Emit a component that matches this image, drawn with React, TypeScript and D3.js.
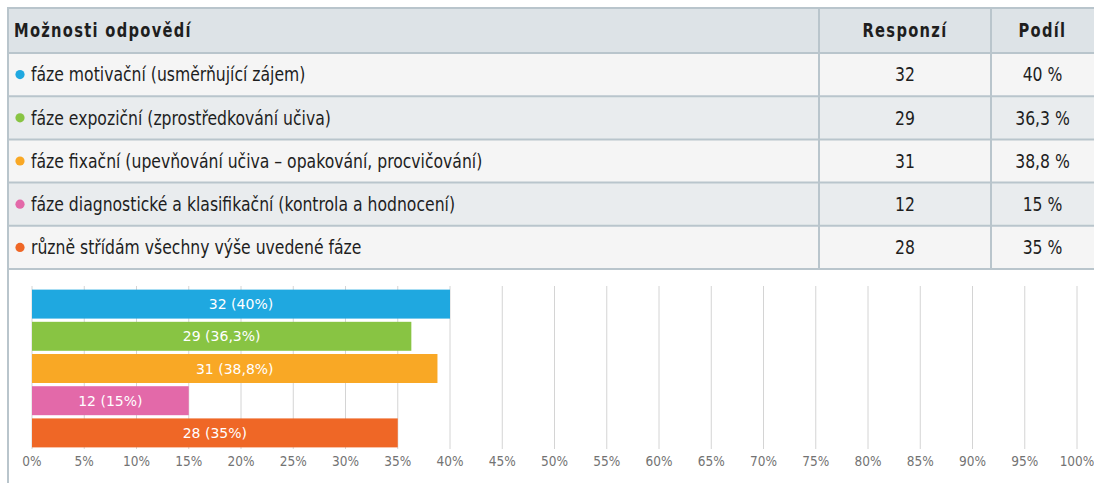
import React from "react";
import * as d3 from "d3";

const categories = [
  "fáze motivační (usměrňující zájem)",
  "fáze expoziční (zprostředkování učiva)",
  "fáze fixační (upevňování učiva – opakování, procvičování)",
  "fáze diagnostické a klasifikační (kontrola a hodnocení)",
  "různě střídám všechny výše uvedené fáze",
];
const responses = [32, 29, 31, 12, 28];
const shares = [40, 36.3, 38.8, 15, 35];
const colors = ["#1fa8e0", "#88c443", "#f9a825", "#e369a9", "#ef6726"];
const headers = ["Možnosti odpovědí", "Responzí", "Podíl"];

const W = 1094;
const H = 483;
const TFONT = "'DejaVu Sans Condensed', 'DejaVu Sans', sans-serif";
const CFONT = "'DejaVu Sans', sans-serif";
const BORDER = "#b9c5cc";

const fmt = (v: number) => String(v).replace(".", ",");

function TT(props: {
  x: number;
  y: number;
  anchor?: "start" | "middle" | "end";
  bold?: boolean;
  sx?: number;
  children: React.ReactNode;
}) {
  const sx = props.sx ?? 0.915;
  return (
    <g transform={`translate(${props.x},${props.y}) scale(${sx},1)`}>
      <text
        x={0}
        y={0}
        textAnchor={props.anchor ?? "start"}
        dominantBaseline="central"
        fontFamily={TFONT}
        fontSize={19}
        fontWeight={props.bold ? 700 : 400}
        letterSpacing={props.bold ? 1.5 : 0}
        fill="#1e1e1e"
      >
        {props.children}
      </text>
    </g>
  );
}

export default function App() {
  const rowY = d3.scaleBand<number>().domain(d3.range(categories.length)).range([53, 269]);
  const col1 = 819;
  const col2 = 991;
  const right = 1096;

  const x = d3.scaleLinear().domain([0, 100]).range([32, 1077]);
  const y = d3
    .scaleBand<number>()
    .domain(d3.range(categories.length))
    .range([288, 449])
    .paddingInner(0.1)
    .paddingOuter(0.05);
  const ticks = x.ticks(20);

  return (
    <svg width={W} height={H} style={{ position: "absolute", left: 0, top: 0, background: "#fff" }}>
      {/* table header */}
      <rect x={8} y={8} width={right - 8} height={45} fill="#dde3e7" />
      <TT x={14} y={31} bold sx={0.86}>{headers[0]}</TT>
      <TT x={(col1 + col2) / 2} y={31} anchor="middle" bold sx={0.86}>{headers[1]}</TT>
      <TT x={(col2 + 1094) / 2} y={31} anchor="middle" bold sx={0.86}>{headers[2]}</TT>

      {categories.map((c, i) => {
        const y0 = rowY(i)!;
        const h = rowY.bandwidth();
        const cy = y0 + h / 2;
        return (
          <g key={c}>
            <rect x={8} y={y0} width={right - 8} height={h} fill={i % 2 === 0 ? "#f5f5f5" : "#e9ecee"} />
            <circle cx={20} cy={cy} r={4.6} fill={colors[i]} />
            <TT x={31} y={cy}>{c}</TT>
            <TT x={(col1 + col2) / 2} y={cy} anchor="middle">{responses[i]}</TT>
            <TT x={(col2 + 1094) / 2} y={cy} anchor="middle">{fmt(shares[i])} %</TT>
          </g>
        );
      })}

      {/* table borders */}
      {[8, ...rowY.domain().map((d) => rowY(d)!), 269].map((yy, i) => (
        <line key={"h" + i} x1={7} x2={right} y1={yy} y2={yy} stroke={BORDER} strokeWidth={2} />
      ))}
      <line x1={8} x2={8} y1={7} y2={H} stroke={BORDER} strokeWidth={2} />
      <line x1={col1} x2={col1} y1={8} y2={269} stroke={BORDER} strokeWidth={2} />
      <line x1={col2} x2={col2} y1={8} y2={269} stroke={BORDER} strokeWidth={2} />

      {/* chart gridlines */}
      {ticks.map((t) => (
        <line key={"g" + t} x1={x(t)} x2={x(t)} y1={286} y2={449} stroke="#d4d4d4" strokeWidth={1} />
      ))}
      {ticks.map((t) => (
        <text key={"t" + t} x={x(t)} y={461} textAnchor="middle" dominantBaseline="central" fontFamily="'DejaVu Sans Condensed', 'DejaVu Sans', sans-serif" fontSize={13.5} fill="#737373">
          {t}%
        </text>
      ))}

      {/* bars */}
      {shares.map((s, i) => (
        <g key={"b" + i}>
          <rect x={x(0)} y={y(i)!} width={x(s) - x(0)} height={y.bandwidth()} fill={colors[i]} />
          <text x={(x(0) + x(s)) / 2} y={y(i)! + y.bandwidth() / 2} textAnchor="middle" dominantBaseline="central" fontFamily={CFONT} fontSize={14} fill="#fff">
            {responses[i]} ({fmt(s)}%)
          </text>
        </g>
      ))}
    </svg>
  );
}
